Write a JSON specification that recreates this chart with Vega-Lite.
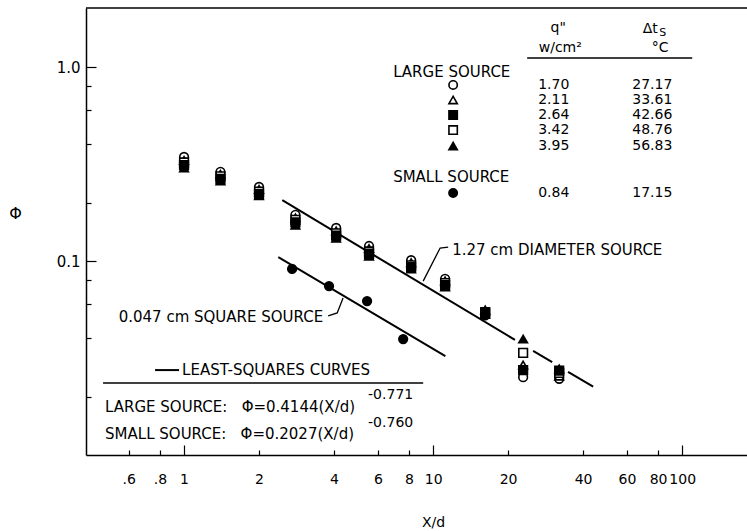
{
  "$schema": "https://vega.github.io/schema/vega-lite/v6.json",
  "width": 661,
  "height": 447,
  "autosize": {"type": "none"},
  "padding": {"left": 86, "top": 8, "right": 0, "bottom": 76},
  "background": "white",
  "config": {
    "view": {"stroke": null},
    "font": "DejaVu Sans",
    "axis": {
      "grid": false,
      "domainColor": "black",
      "domainWidth": 1.5,
      "tickColor": "black",
      "tickWidth": 1.2,
      "labelColor": "black",
      "labelFont": "DejaVu Sans",
      "labelFontSize": 14,
      "titleFont": "DejaVu Sans",
      "titleFontWeight": "normal",
      "titleColor": "black",
      "titleFontSize": 14
    }
  },
  "datasets": {
    "pts": [
      {"x": 1.0, "y": 0.344, "q": "1.70"}, {"x": 1.4, "y": 0.288, "q": "1.70"}, {"x": 2.0, "y": 0.241, "q": "1.70"}, {"x": 2.8, "y": 0.173, "q": "1.70"}, {"x": 4.08, "y": 0.148, "q": "1.70"}, {"x": 5.53, "y": 0.1195, "q": "1.70"}, {"x": 8.16, "y": 0.101, "q": "1.70"}, {"x": 11.17, "y": 0.081, "q": "1.70"}, {"x": 16.18, "y": 0.0525, "q": "1.70"}, {"x": 22.98, "y": 0.0252, "q": "1.70"}, {"x": 32.07, "y": 0.0247, "q": "1.70"},
      {"x": 1.0, "y": 0.330, "q": "2.11"}, {"x": 1.4, "y": 0.280, "q": "2.11"}, {"x": 2.0, "y": 0.234, "q": "2.11"}, {"x": 2.8, "y": 0.167, "q": "2.11"}, {"x": 4.08, "y": 0.143, "q": "2.11"}, {"x": 5.53, "y": 0.116, "q": "2.11"}, {"x": 8.16, "y": 0.098, "q": "2.11"}, {"x": 11.17, "y": 0.079, "q": "2.11"}, {"x": 16.18, "y": 0.053, "q": "2.11"}, {"x": 22.98, "y": 0.0291, "q": "2.11"}, {"x": 32.07, "y": 0.0255, "q": "2.11"},
      {"x": 1.0, "y": 0.322, "q": "3.42"}, {"x": 1.4, "y": 0.273, "q": "3.42"}, {"x": 2.0, "y": 0.228, "q": "3.42"}, {"x": 2.8, "y": 0.163, "q": "3.42"}, {"x": 4.08, "y": 0.139, "q": "3.42"}, {"x": 5.53, "y": 0.112, "q": "3.42"}, {"x": 8.16, "y": 0.095, "q": "3.42"}, {"x": 11.17, "y": 0.077, "q": "3.42"}, {"x": 16.18, "y": 0.0545, "q": "3.42"}, {"x": 22.98, "y": 0.0336, "q": "3.42"}, {"x": 32.07, "y": 0.0265, "q": "3.42"},
      {"x": 1.0, "y": 0.312, "q": "2.64"}, {"x": 1.4, "y": 0.265, "q": "2.64"}, {"x": 2.0, "y": 0.222, "q": "2.64"}, {"x": 2.8, "y": 0.158, "q": "2.64"}, {"x": 4.08, "y": 0.135, "q": "2.64"}, {"x": 5.53, "y": 0.109, "q": "2.64"}, {"x": 8.16, "y": 0.093, "q": "2.64"}, {"x": 11.17, "y": 0.075, "q": "2.64"}, {"x": 16.18, "y": 0.054, "q": "2.64"}, {"x": 22.98, "y": 0.0274, "q": "2.64"}, {"x": 32.07, "y": 0.0272, "q": "2.64"},
      {"x": 1.0, "y": 0.302, "q": "3.95"}, {"x": 1.4, "y": 0.259, "q": "3.95"}, {"x": 2.0, "y": 0.217, "q": "3.95"}, {"x": 2.8, "y": 0.153, "q": "3.95"}, {"x": 4.08, "y": 0.131, "q": "3.95"}, {"x": 5.53, "y": 0.106, "q": "3.95"}, {"x": 8.16, "y": 0.091, "q": "3.95"}, {"x": 11.17, "y": 0.0735, "q": "3.95"}, {"x": 16.18, "y": 0.056, "q": "3.95"}, {"x": 22.98, "y": 0.0396, "q": "3.95"}, {"x": 32.07, "y": 0.0278, "q": "3.95"},
      {"x": 2.715, "y": 0.091, "q": "0.84"}, {"x": 3.82, "y": 0.0743, "q": "0.84"}, {"x": 5.43, "y": 0.0622, "q": "0.84"}, {"x": 7.58, "y": 0.0396, "q": "0.84"}
    ],
    "key": [
      {"x": 12.03, "y": 0.808, "q": "1.70"},
      {"x": 12.03, "y": 0.676, "q": "2.11"},
      {"x": 12.03, "y": 0.566, "q": "2.64"},
      {"x": 12.03, "y": 0.473, "q": "3.42"},
      {"x": 12.03, "y": 0.3915, "q": "3.95"},
      {"x": 12.03, "y": 0.2241, "q": "0.84"}
    ],
    "fits": [
      {"seg": "L1", "x": 2.48, "y": 0.2058}, {"seg": "L1", "x": 21.3, "y": 0.0392},
      {"seg": "L2", "x": 25.2, "y": 0.0344}, {"seg": "L2", "x": 30.06, "y": 0.0301},
      {"seg": "L3", "x": 34.8, "y": 0.0268}, {"seg": "L3", "x": 43.9, "y": 0.0225},
      {"seg": "S", "x": 2.39, "y": 0.1046}, {"seg": "S", "x": 11.2, "y": 0.0323},
      {"seg": "D", "x": 0.765, "y": 0.0274}, {"seg": "D", "x": 0.955, "y": 0.0274}
    ],
    "thin": [
      {"seg": "A", "x": 9.12, "y": 0.0788}, {"seg": "A", "x": 10.67, "y": 0.1167}, {"seg": "A", "x": 11.49, "y": 0.118},
      {"seg": "B", "x": 3.79, "y": 0.0521}, {"seg": "B", "x": 4.12, "y": 0.054}, {"seg": "B", "x": 4.35, "y": 0.0645},
      {"seg": "U", "x": 0.473, "y": 0.0235}, {"seg": "U", "x": 9.12, "y": 0.0235},
      {"seg": "T", "x": 23.85, "y": 1.113}, {"seg": "T", "x": 109.7, "y": 1.113}
    ],
    "tl": [
      {"x": 6.91, "y": 0.942, "t": "LARGE SOURCE"},
      {"x": 6.91, "y": 0.271, "t": "SMALL SOURCE"},
      {"x": 0.982, "y": 0.0274, "t": "LEAST-SQUARES CURVES"},
      {"x": 0.482, "y": 0.01768, "t": "LARGE SOURCE:\u00a0\u00a0 Φ=0.4144(X/d)"},
      {"x": 0.482, "y": 0.01283, "t": "SMALL SOURCE:\u00a0\u00a0 Φ=0.2027(X/d)"},
      {"x": 11.92, "y": 0.1139, "t": "1.27 cm DIAMETER SOURCE"}
    ],
    "nums": [
      {"x": 26.4, "y": 0.808, "t": "1.70"},
      {"x": 26.4, "y": 0.676, "t": "2.11"},
      {"x": 26.4, "y": 0.566, "t": "2.64"},
      {"x": 26.4, "y": 0.473, "t": "3.42"},
      {"x": 26.4, "y": 0.3915, "t": "3.95"},
      {"x": 26.4, "y": 0.2241, "t": "0.84"},
      {"x": 63.0, "y": 0.808, "t": "27.17"},
      {"x": 63.0, "y": 0.676, "t": "33.61"},
      {"x": 63.0, "y": 0.566, "t": "42.66"},
      {"x": 63.0, "y": 0.473, "t": "48.76"},
      {"x": 63.0, "y": 0.3915, "t": "56.83"},
      {"x": 63.0, "y": 0.2241, "t": "17.15"}
    ],
    "tr": [
      {"x": 3.62, "y": 0.0514, "t": "0.047 cm SQUARE SOURCE"}
    ],
    "tc": [
      {"x": 31.8, "y": 1.589, "t": "q\""},
      {"x": 32.4, "y": 1.253, "t": "w/cm²"},
      {"x": 74.4, "y": 1.57, "t": "Δt"},
      {"x": 81.6, "y": 1.253, "t": "°C"}
    ],
    "ts": [
      {"x": 5.48, "y": 0.0204, "t": "-0.771"},
      {"x": 5.48, "y": 0.01462, "t": "-0.760"}
    ],
    "sub": [
      {"x": 80.9, "y": 1.49, "t": "S"}
    ]
  },
  "layer": [
    {
      "encoding": {
        "x": {
          "field": "x",
          "type": "quantitative",
          "scale": {"type": "log", "domain": [0.404, 182], "nice": false},
          "axis": {
            "title": "X/d",
            "titleX": 347,
            "titleY": 67,
            "titleAlign": "center",
            "titleBaseline": "middle",
            "values": [0.6, 0.8, 1, 2, 4, 6, 8, 10, 20, 40, 60, 80, 100],
            "labelExpr": "datum.value < 1 ? '.' + round(datum.value * 10) : '' + datum.value",
            "tickSize": {"condition": {"test": "datum.value == 1 || datum.value == 10 || datum.value == 100", "value": -10}, "value": -5},
            "labelPadding": {"condition": {"test": "datum.value == 1 || datum.value == 10 || datum.value == 100", "value": 27}, "value": 22},
            "labelBaseline": "top"
          }
        },
        "y": {
          "field": "y",
          "type": "quantitative",
          "scale": {"type": "log", "domain": [0.01, 2.015], "nice": false},
          "axis": {
            "title": "Φ",
            "titleAngle": 0,
            "titleX": -71,
            "titleY": 205,
            "titleAlign": "center",
            "titleBaseline": "middle",
            "titleFontSize": 16,
            "values": [0.02, 0.04, 0.06, 0.08, 0.1, 0.2, 0.4, 0.6, 0.8, 1],
            "labelExpr": "datum.value == 1 ? '1.0' : datum.value == 0.1 ? '0.1' : ''",
            "labelFontSize": 15,
            "tickSize": {"condition": {"test": "datum.value == 1 || datum.value == 0.1", "value": -10}, "value": -5},
            "labelPadding": 16
          }
        }
      },
      "layer": [
        {
          "data": {"name": "fits"},
          "mark": {"type": "line", "color": "black", "strokeWidth": 2},
          "encoding": {"detail": {"field": "seg"}}
        },
        {
          "data": {"name": "thin"},
          "mark": {"type": "line", "color": "black", "strokeWidth": 1.3},
          "encoding": {"detail": {"field": "seg"}}
        },
        {
          "data": {"name": "pts"},
          "mark": {"type": "point", "filled": true, "stroke": "black", "strokeWidth": 1.6, "size": 75, "opacity": 1},
          "encoding": {
            "shape": {"field": "q", "type": "nominal", "legend": null, "scale": {"domain": ["1.70", "2.11", "2.64", "3.42", "3.95", "0.84"], "range": ["circle", "triangle-up", "square", "square", "triangle-up", "circle"]}},
            "fill": {"field": "q", "type": "nominal", "legend": null, "scale": {"domain": ["1.70", "2.11", "2.64", "3.42", "3.95", "0.84"], "range": ["white", "white", "black", "white", "black", "black"]}}
          }
        },
        {
          "data": {"name": "key"},
          "mark": {"type": "point", "filled": true, "stroke": "black", "strokeWidth": 1.6, "size": 70, "opacity": 1},
          "encoding": {
            "shape": {"field": "q", "type": "nominal", "legend": null},
            "fill": {"field": "q", "type": "nominal", "legend": null}
          }
        },
        {
          "data": {"name": "tl"},
          "mark": {"type": "text", "align": "left", "baseline": "middle", "fontSize": 15, "color": "black", "font": "DejaVu Sans"},
          "encoding": {"text": {"field": "t"}}
        },
        {
          "data": {"name": "nums"},
          "mark": {"type": "text", "align": "left", "baseline": "middle", "fontSize": 14, "color": "black", "font": "DejaVu Sans"},
          "encoding": {"text": {"field": "t"}}
        },
        {
          "data": {"name": "tr"},
          "mark": {"type": "text", "align": "right", "baseline": "middle", "fontSize": 15, "color": "black", "font": "DejaVu Sans"},
          "encoding": {"text": {"field": "t"}}
        },
        {
          "data": {"name": "tc"},
          "mark": {"type": "text", "align": "center", "baseline": "middle", "fontSize": 14, "color": "black", "font": "DejaVu Sans"},
          "encoding": {"text": {"field": "t"}}
        },
        {
          "data": {"name": "ts"},
          "mark": {"type": "text", "align": "left", "baseline": "middle", "fontSize": 14, "color": "black", "font": "DejaVu Sans"},
          "encoding": {"text": {"field": "t"}}
        },
        {
          "data": {"name": "sub"},
          "mark": {"type": "text", "align": "left", "baseline": "middle", "fontSize": 11, "color": "black", "font": "DejaVu Sans"},
          "encoding": {"text": {"field": "t"}}
        }
      ]
    },
    {
      "data": {"values": [{}]},
      "mark": {"type": "rule", "color": "black", "strokeWidth": 1.5},
      "encoding": {"y": {"datum": 2.015, "type": "quantitative"}}
    }
  ]
}
